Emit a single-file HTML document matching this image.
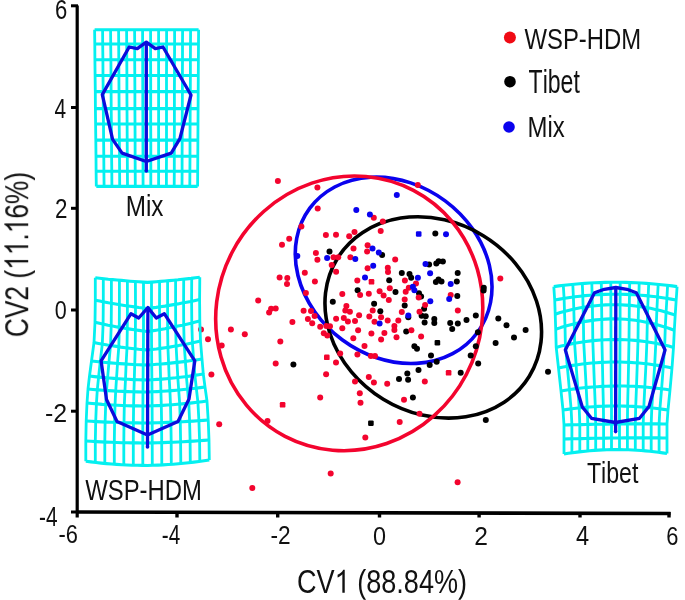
<!DOCTYPE html>
<html><head><meta charset="utf-8"><style>html,body{margin:0;padding:0;background:#fff}svg{display:block}text{font-family:"Liberation Sans",sans-serif}</style></head>
<body><svg width="685" height="600" viewBox="0 0 685 600">
<rect width="685" height="600" fill="#fff"/>
<g fill="none" stroke-width="3.6">
<ellipse cx="393.64" cy="270.32" rx="104.34" ry="86.49" transform="rotate(36.55 393.64 270.32)" stroke="#0a02ee"/>
<ellipse cx="433.26" cy="317.46" rx="112.61" ry="95.84" transform="rotate(31.46 433.26 317.46)" stroke="#000"/>
<ellipse cx="349.22" cy="313.35" rx="132.09" ry="138.74" transform="rotate(27.57 349.22 313.35)" stroke="#f3042e"/>
</g>
<g fill="#000"><circle cx="329.5" cy="251.4" r="3.0"/><circle cx="382.1" cy="254.9" r="3.0"/><circle cx="401.8" cy="272.9" r="3.0"/><circle cx="389.2" cy="280.3" r="3.0"/><circle cx="409.5" cy="274" r="3.0"/><circle cx="435.3" cy="233.4" r="3.0"/><circle cx="429.1" cy="264.4" r="3.0"/><circle cx="436.3" cy="263.4" r="3.0"/><circle cx="438.6" cy="261.3" r="3.0"/><circle cx="442.9" cy="261.6" r="3.0"/><circle cx="411.2" cy="277.7" r="3.0"/><circle cx="457.7" cy="273.1" r="3.0"/><circle cx="456.8" cy="281.5" r="3.0"/><circle cx="438.5" cy="279.5" r="3.0"/><circle cx="435.9" cy="282.1" r="3.0"/><circle cx="441.5" cy="281.6" r="3.0"/><circle cx="457.3" cy="295.9" r="3.0"/><circle cx="419" cy="293.3" r="3.0"/><circle cx="421.1" cy="296.4" r="3.0"/><circle cx="395.5" cy="292" r="3.0"/><circle cx="357.6" cy="290.3" r="3.0"/><circle cx="332.8" cy="301.7" r="3.0"/><circle cx="374.1" cy="303.8" r="3.0"/><circle cx="380.3" cy="311.2" r="3.0"/><circle cx="404.7" cy="305.6" r="3.0"/><circle cx="424.1" cy="308.7" r="3.0"/><circle cx="408.3" cy="317.3" r="3.0"/><circle cx="421.6" cy="315.8" r="3.0"/><circle cx="425.7" cy="316.3" r="3.0"/><circle cx="424.6" cy="322.5" r="3.0"/><circle cx="434.3" cy="318.9" r="3.0"/><circle cx="434.3" cy="323" r="3.0"/><circle cx="406.2" cy="331.6" r="3.0"/><circle cx="450.2" cy="323" r="3.0"/><circle cx="457.8" cy="323.5" r="3.0"/><circle cx="452.2" cy="329.1" r="3.0"/><circle cx="466.5" cy="319.9" r="3.0"/><circle cx="483.8" cy="287.8" r="3.0"/><circle cx="483.6" cy="290.6" r="3.0"/><circle cx="475.8" cy="315.6" r="3.0"/><circle cx="498.3" cy="318.4" r="3.0"/><circle cx="506.5" cy="325.2" r="3.0"/><circle cx="525.6" cy="330" r="3.0"/><circle cx="477.9" cy="332.2" r="3.0"/><circle cx="514" cy="337.5" r="3.0"/><circle cx="548" cy="371.7" r="3.0"/><circle cx="293.4" cy="364.6" r="3.0"/><rect x="434.6" y="339.9" width="5.6" height="5.6" rx="1.2"/><circle cx="414.4" cy="346.2" r="3.0"/><circle cx="417" cy="348.8" r="3.0"/><circle cx="431" cy="355.6" r="3.0"/><circle cx="436.7" cy="361.8" r="3.0"/><circle cx="429.7" cy="365.1" r="3.0"/><circle cx="418.5" cy="370" r="3.0"/><circle cx="407.3" cy="373.6" r="3.0"/><circle cx="399" cy="379.1" r="3.0"/><circle cx="408.1" cy="379.7" r="3.0"/><circle cx="460.7" cy="372.7" r="3.0"/><circle cx="495.6" cy="343" r="3.0"/><circle cx="475.8" cy="346.2" r="3.0"/><circle cx="470.7" cy="355.6" r="3.0"/><circle cx="478.2" cy="363.4" r="3.0"/><rect x="368.1" y="420.4" width="5.6" height="5.6" rx="1.2"/><circle cx="412.9" cy="397.4" r="3.0"/><circle cx="485.8" cy="420" r="3.0"/></g>
<g fill="#f3042e"><circle cx="277.9" cy="181.1" r="3.0"/><circle cx="289.2" cy="238.7" r="3.0"/><circle cx="282" cy="244.7" r="3.0"/><circle cx="301.4" cy="226.6" r="3.0"/><circle cx="317.4" cy="187.5" r="3.0"/><circle cx="317.7" cy="208.6" r="3.0"/><circle cx="417.8" cy="184.9" r="3.0"/><circle cx="373.8" cy="217.8" r="3.0"/><circle cx="382.8" cy="221.6" r="3.0"/><circle cx="325.9" cy="235" r="3.0"/><circle cx="336" cy="234.8" r="3.0"/><circle cx="315.9" cy="253" r="3.0"/><circle cx="317.4" cy="259.8" r="3.0"/><circle cx="333.5" cy="257.3" r="3.0"/><circle cx="338.2" cy="257.3" r="3.0"/><circle cx="331.7" cy="265.1" r="3.0"/><circle cx="336.1" cy="271.8" r="3.0"/><circle cx="304.8" cy="272.8" r="3.0"/><circle cx="279.6" cy="277.5" r="3.0"/><circle cx="287.3" cy="278" r="3.0"/><circle cx="314.9" cy="281.5" r="3.0"/><circle cx="354.5" cy="231.9" r="3.0"/><circle cx="349.2" cy="236.3" r="3.0"/><circle cx="380.7" cy="231" r="3.0"/><circle cx="353.5" cy="248.4" r="3.0"/><circle cx="367.6" cy="245.3" r="3.0"/><circle cx="367.1" cy="251.4" r="3.0"/><circle cx="350.4" cy="257.3" r="3.0"/><circle cx="395.2" cy="259.6" r="3.0"/><circle cx="367.6" cy="268.3" r="3.0"/><circle cx="387.8" cy="267.8" r="3.0"/><circle cx="388" cy="272.1" r="3.0"/><circle cx="357.3" cy="280.5" r="3.0"/><rect x="368.7" y="279.0" width="5.6" height="5.6" rx="1.2"/><circle cx="404.9" cy="280.4" r="3.0"/><circle cx="500.3" cy="278.5" r="3.0"/><circle cx="258.2" cy="300.5" r="3.0"/><circle cx="230.9" cy="329.6" r="3.0"/><circle cx="244.8" cy="334.3" r="3.0"/><circle cx="201" cy="329.5" r="3.0"/><circle cx="208" cy="339.3" r="3.0"/><circle cx="287" cy="284.1" r="3.0"/><circle cx="305.9" cy="293.1" r="3.0"/><circle cx="271.1" cy="308.7" r="3.0"/><circle cx="275.7" cy="308.5" r="3.0"/><circle cx="269.1" cy="312.5" r="3.0"/><circle cx="303.6" cy="310.7" r="3.0"/><circle cx="311" cy="310.9" r="3.0"/><circle cx="314.6" cy="316" r="3.0"/><circle cx="307.9" cy="319.1" r="3.0"/><circle cx="312.2" cy="323.2" r="3.0"/><circle cx="292.4" cy="321.9" r="3.0"/><circle cx="320.2" cy="326.8" r="3.0"/><circle cx="326.3" cy="326" r="3.0"/><circle cx="330" cy="326.3" r="3.0"/><circle cx="323.8" cy="333.2" r="3.0"/><circle cx="327.3" cy="335.5" r="3.0"/><circle cx="389.8" cy="288.2" r="3.0"/><circle cx="360.1" cy="294.9" r="3.0"/><circle cx="342.3" cy="294.1" r="3.0"/><circle cx="368.8" cy="293.8" r="3.0"/><circle cx="379.6" cy="291.3" r="3.0"/><circle cx="383.6" cy="295.4" r="3.0"/><circle cx="388.8" cy="300" r="3.0"/><circle cx="346.4" cy="306.1" r="3.0"/><circle cx="345.3" cy="310.5" r="3.0"/><circle cx="349.9" cy="311.7" r="3.0"/><circle cx="372.7" cy="310.5" r="3.0"/><circle cx="336.1" cy="318.7" r="3.0"/><circle cx="343.8" cy="318.1" r="3.0"/><circle cx="347.9" cy="321.4" r="3.0"/><circle cx="355" cy="320.9" r="3.0"/><circle cx="359.1" cy="315.3" r="3.0"/><circle cx="369.3" cy="316.6" r="3.0"/><circle cx="381.1" cy="317.3" r="3.0"/><circle cx="374.5" cy="321.7" r="3.0"/><circle cx="387.7" cy="320.4" r="3.0"/><circle cx="398.3" cy="320.4" r="3.0"/><circle cx="394.4" cy="326" r="3.0"/><circle cx="394.4" cy="330.1" r="3.0"/><circle cx="342.3" cy="328.3" r="3.0"/><circle cx="358.1" cy="330.3" r="3.0"/><circle cx="371.4" cy="333.4" r="3.0"/><circle cx="384.4" cy="333" r="3.0"/><circle cx="353.3" cy="338.2" r="3.0"/><circle cx="401.8" cy="312" r="3.0"/><circle cx="416" cy="283.6" r="3.0"/><circle cx="408.8" cy="287.7" r="3.0"/><circle cx="405.7" cy="291.8" r="3.0"/><circle cx="418.7" cy="297.4" r="3.0"/><circle cx="404.7" cy="299.5" r="3.0"/><circle cx="425.1" cy="305.1" r="3.0"/><circle cx="419.5" cy="311.7" r="3.0"/><circle cx="411.4" cy="330.3" r="3.0"/><circle cx="421.1" cy="336.6" r="3.0"/><circle cx="396.5" cy="337.2" r="3.0"/><circle cx="450.7" cy="294.9" r="3.0"/><circle cx="457.8" cy="310.5" r="3.0"/><circle cx="381.1" cy="339.6" r="3.0"/><circle cx="364.5" cy="346" r="3.0"/><circle cx="340.2" cy="353.4" r="3.0"/><circle cx="357.4" cy="354.4" r="3.0"/><circle cx="370.9" cy="356" r="3.0"/><circle cx="375" cy="356" r="3.0"/><circle cx="336" cy="362.6" r="3.0"/><circle cx="368.8" cy="377.1" r="3.0"/><circle cx="373.9" cy="382.5" r="3.0"/><circle cx="355" cy="381.5" r="3.0"/><circle cx="387.2" cy="383.8" r="3.0"/><circle cx="359.8" cy="393.2" r="3.0"/><circle cx="280.3" cy="341.6" r="3.0"/><circle cx="275.7" cy="363.6" r="3.0"/><rect x="324.0" y="354.5" width="5.6" height="5.6" rx="1.2"/><circle cx="326.1" cy="374.3" r="3.0"/><circle cx="221.7" cy="345.4" r="3.0"/><circle cx="211.4" cy="374.6" r="3.0"/><circle cx="424.8" cy="381.5" r="3.0"/><rect x="445.8" y="370.0" width="5.6" height="5.6" rx="1.2"/><circle cx="219.2" cy="424.2" r="3.0"/><circle cx="267.5" cy="421" r="3.0"/><rect x="279.8" y="402.0" width="5.6" height="5.6" rx="1.2"/><circle cx="320.2" cy="397.5" r="3.0"/><circle cx="360.5" cy="402.8" r="3.0"/><circle cx="365.3" cy="437.5" r="3.0"/><circle cx="399.7" cy="421.9" r="3.0"/><circle cx="404" cy="399.7" r="3.0"/><circle cx="419.5" cy="413.7" r="3.0"/><circle cx="252.3" cy="487.9" r="3.0"/><circle cx="330.7" cy="473.6" r="3.0"/><circle cx="457.6" cy="482.3" r="3.0"/></g>
<g fill="#0a02ee"><circle cx="356.3" cy="210" r="3.0"/><circle cx="369.9" cy="214.6" r="3.0"/><circle cx="396.8" cy="195" r="3.0"/><circle cx="327.1" cy="258.1" r="3.0"/><circle cx="297.3" cy="256" r="3.0"/><circle cx="372.5" cy="248.4" r="3.0"/><circle cx="378.8" cy="252.5" r="3.0"/><circle cx="355.3" cy="259" r="3.0"/><circle cx="373.2" cy="265.7" r="3.0"/><circle cx="365" cy="277.4" r="3.0"/><rect x="415.9" y="231.2" width="5.6" height="5.6" rx="1.2"/><circle cx="446" cy="234.3" r="3.0"/><circle cx="425.5" cy="264.1" r="3.0"/><circle cx="430.1" cy="273.3" r="3.0"/><circle cx="417.9" cy="277.7" r="3.0"/><circle cx="450.7" cy="283.9" r="3.0"/><circle cx="412.9" cy="286.7" r="3.0"/><circle cx="414.4" cy="290.3" r="3.0"/><circle cx="430.3" cy="301.3" r="3.0"/><circle cx="408.3" cy="315.6" r="3.0"/><circle cx="449.2" cy="298.9" r="3.0"/><circle cx="379.6" cy="323.5" r="3.0"/></g>
<path d="M94.6,29.7 98.9,29.7 103.3,29.7 107.6,29.7 111.9,29.7 116.3,29.7 120.6,29.7 124.9,29.7 129.3,29.7 133.6,29.7 137.9,29.7 142.3,29.7 146.6,29.7 150.9,29.7 155.3,29.7 159.6,29.7 163.9,29.7 168.3,29.7 172.6,29.7 176.9,29.7 181.3,29.7 185.6,29.7 189.9,29.7 194.3,29.7 198.6,29.7 M94.8,44.0 99.1,44.0 103.4,44.0 107.7,44.0 112.1,44.0 116.4,44.0 120.7,44.0 125.0,44.0 129.3,44.0 133.7,44.0 138.0,44.0 142.3,44.0 146.6,44.0 151.0,44.0 155.3,44.0 159.6,44.0 163.9,44.0 168.2,44.0 172.6,44.0 176.9,44.0 181.2,44.0 185.5,44.0 189.9,44.0 194.2,44.0 198.5,44.0 M94.9,59.7 99.3,59.7 103.6,59.7 107.9,59.7 112.2,59.7 116.5,59.7 120.8,59.7 125.1,59.7 129.4,59.7 133.7,59.7 138.0,59.7 142.4,59.7 146.7,59.7 151.0,59.7 155.3,59.7 159.6,59.7 163.9,59.7 168.2,59.7 172.5,59.7 176.8,59.7 181.2,59.7 185.5,59.7 189.8,59.7 194.1,59.7 198.4,59.7 M95.1,75.5 99.4,75.5 103.7,75.5 108.0,75.5 112.3,75.5 116.6,75.5 120.9,75.5 125.2,75.5 129.5,75.5 133.8,75.5 138.1,75.5 142.4,75.5 146.7,75.5 151.0,75.5 155.3,75.5 159.6,75.5 163.9,75.5 168.2,75.5 172.5,75.5 176.8,75.5 181.1,75.5 185.4,75.5 189.7,75.5 194.0,75.5 198.3,75.5 M95.3,91.6 99.6,91.6 103.9,91.6 108.1,91.6 112.4,91.6 116.7,91.6 121.0,91.6 125.3,91.6 129.6,91.6 133.9,91.6 138.2,91.6 142.5,91.6 146.7,91.6 151.0,91.6 155.3,91.6 159.6,91.6 163.9,91.6 168.2,91.6 172.5,91.6 176.8,91.6 181.0,91.6 185.3,91.6 189.6,91.6 193.9,91.6 198.2,91.6 M95.4,108.6 99.7,108.6 104.0,108.6 108.3,108.6 112.6,108.6 116.8,108.6 121.1,108.6 125.4,108.6 129.7,108.6 133.9,108.6 138.2,108.6 142.5,108.6 146.8,108.6 151.1,108.6 155.3,108.6 159.6,108.6 163.9,108.6 168.2,108.6 172.4,108.6 176.7,108.6 181.0,108.6 185.3,108.6 189.5,108.6 193.8,108.6 198.1,108.6 M95.6,124.0 99.9,124.0 104.2,124.0 108.4,124.0 112.7,124.0 116.9,124.0 121.2,124.0 125.5,124.0 129.7,124.0 134.0,124.0 138.3,124.0 142.5,124.0 146.8,124.0 151.1,124.0 155.3,124.0 159.6,124.0 163.9,124.0 168.1,124.0 172.4,124.0 176.7,124.0 180.9,124.0 185.2,124.0 189.5,124.0 193.7,124.0 198.0,124.0 M95.8,140.1 100.0,140.1 104.3,140.1 108.6,140.1 112.8,140.1 117.1,140.1 121.3,140.1 125.6,140.1 129.8,140.1 134.1,140.1 138.3,140.1 142.6,140.1 146.8,140.1 151.1,140.1 155.4,140.1 159.6,140.1 163.9,140.1 168.1,140.1 172.4,140.1 176.6,140.1 180.9,140.1 185.1,140.1 189.4,140.1 193.6,140.1 197.9,140.1 M96.0,156.2 100.2,156.2 104.4,156.2 108.7,156.2 112.9,156.2 117.2,156.2 121.4,156.2 125.7,156.2 129.9,156.2 134.2,156.2 138.4,156.2 142.6,156.2 146.9,156.2 151.1,156.2 155.4,156.2 159.6,156.2 163.9,156.2 168.1,156.2 172.3,156.2 176.6,156.2 180.8,156.2 185.1,156.2 189.3,156.2 193.6,156.2 197.8,156.2 M96.1,171.2 100.4,171.2 104.6,171.2 108.8,171.2 113.1,171.2 117.3,171.2 121.5,171.2 125.8,171.2 130.0,171.2 134.2,171.2 138.5,171.2 142.7,171.2 146.9,171.2 151.1,171.2 155.4,171.2 159.6,171.2 163.8,171.2 168.1,171.2 172.3,171.2 176.5,171.2 180.8,171.2 185.0,171.2 189.2,171.2 193.5,171.2 197.7,171.2 M96.3,186.4 100.5,186.4 104.7,186.4 109.0,186.4 113.2,186.4 117.4,186.4 121.6,186.4 125.8,186.4 130.1,186.4 134.3,186.4 138.5,186.4 142.7,186.4 146.9,186.4 151.2,186.4 155.4,186.4 159.6,186.4 163.8,186.4 168.1,186.4 172.3,186.4 176.5,186.4 180.7,186.4 184.9,186.4 189.2,186.4 193.4,186.4 197.6,186.4" fill="none" stroke="#04f0f0" stroke-width="3.0999999999999996" stroke-linejoin="round"/><path d="M94.6,29.7 94.8,44.0 94.9,59.7 95.1,75.5 95.3,91.6 95.4,108.6 95.6,124.0 95.8,140.1 96.0,156.2 96.1,171.2 96.3,186.4 M102.6,29.7 102.7,44.0 102.9,59.7 103.0,75.5 103.2,91.6 103.3,108.6 103.5,124.0 103.6,140.1 103.8,156.2 103.9,171.2 104.1,186.4 M110.6,29.7 110.7,44.0 110.9,59.7 111.0,75.5 111.1,91.6 111.2,108.6 111.4,124.0 111.5,140.1 111.6,156.2 111.8,171.2 111.9,186.4 M118.6,29.7 118.7,44.0 118.8,59.7 118.9,75.5 119.0,91.6 119.1,108.6 119.2,124.0 119.4,140.1 119.5,156.2 119.6,171.2 119.7,186.4 M126.6,29.7 126.7,44.0 126.8,59.7 126.9,75.5 126.9,91.6 127.0,108.6 127.1,124.0 127.2,140.1 127.3,156.2 127.4,171.2 127.5,186.4 M134.6,29.7 134.7,44.0 134.7,59.7 134.8,75.5 134.9,91.6 134.9,108.6 135.0,124.0 135.1,140.1 135.1,156.2 135.2,171.2 135.3,186.4 M142.6,29.7 142.6,44.0 142.7,59.7 142.7,75.5 142.8,91.6 142.8,108.6 142.9,124.0 142.9,140.1 143.0,156.2 143.0,171.2 143.1,186.4 M150.6,29.7 150.6,44.0 150.6,59.7 150.7,75.5 150.7,91.6 150.7,108.6 150.7,124.0 150.8,140.1 150.8,156.2 150.8,171.2 150.8,186.4 M158.6,29.7 158.6,44.0 158.6,59.7 158.6,75.5 158.6,91.6 158.6,108.6 158.6,124.0 158.6,140.1 158.6,156.2 158.6,171.2 158.6,186.4 M166.6,29.7 166.6,44.0 166.6,59.7 166.5,75.5 166.5,91.6 166.5,108.6 166.5,124.0 166.5,140.1 166.5,156.2 166.4,171.2 166.4,186.4 M174.6,29.7 174.6,44.0 174.5,59.7 174.5,75.5 174.4,91.6 174.4,108.6 174.4,124.0 174.3,140.1 174.3,156.2 174.3,171.2 174.2,186.4 M182.6,29.7 182.5,44.0 182.5,59.7 182.4,75.5 182.4,91.6 182.3,108.6 182.2,124.0 182.2,140.1 182.1,156.2 182.1,171.2 182.0,186.4 M190.6,29.7 190.5,44.0 190.4,59.7 190.4,75.5 190.3,91.6 190.2,108.6 190.1,124.0 190.0,140.1 190.0,156.2 189.9,171.2 189.8,186.4 M198.6,29.7 198.5,44.0 198.4,59.7 198.3,75.5 198.2,91.6 198.1,108.6 198.0,124.0 197.9,140.1 197.8,156.2 197.7,171.2 197.6,186.4" fill="none" stroke="#04f0f0" stroke-width="2.8" stroke-linejoin="round"/>
<path d="M95.3,277.7 99.6,278.2 104.0,278.7 108.3,279.2 112.7,279.6 117.0,280.0 121.4,280.4 125.7,280.8 130.1,281.2 134.4,281.5 138.8,281.8 143.1,282.1 147.5,282.4 151.9,282.1 156.2,281.8 160.6,281.4 164.9,281.0 169.3,280.6 173.6,280.2 178.0,279.8 182.4,279.3 186.7,278.9 191.1,278.4 195.4,277.8 199.8,277.3 M95.3,300.2 99.7,301.1 104.0,301.9 108.4,302.8 112.7,303.5 117.1,304.3 121.4,305.0 125.8,305.7 130.1,306.3 134.5,306.9 138.8,307.5 143.2,308.0 147.5,308.5 151.8,307.9 156.2,307.4 160.5,306.7 164.9,306.1 169.2,305.4 173.6,304.6 177.9,303.9 182.2,303.1 186.6,302.2 190.9,301.4 195.3,300.4 199.6,299.5 M95.0,322.3 99.4,323.3 103.8,324.2 108.1,325.2 112.5,326.0 116.9,326.9 121.3,327.6 125.6,328.4 130.0,329.1 134.4,329.8 138.8,330.4 143.1,331.0 147.5,331.5 151.9,330.9 156.2,330.2 160.6,329.4 165.0,328.7 169.3,327.8 173.7,327.0 178.0,326.1 182.4,325.2 186.7,324.2 191.1,323.2 195.4,322.1 199.8,321.0 M94.0,342.5 98.5,343.4 103.0,344.2 107.4,345.0 111.9,345.7 116.4,346.4 120.8,347.1 125.3,347.7 129.7,348.2 134.2,348.7 138.6,349.2 143.1,349.6 147.5,350.0 151.9,349.5 156.4,349.0 160.8,348.4 165.2,347.7 169.6,347.1 174.1,346.3 178.5,345.6 182.9,344.7 187.3,343.9 191.7,343.0 196.1,342.0 200.5,341.0 M91.5,361.0 96.2,361.5 100.9,362.0 105.6,362.5 110.3,362.9 115.0,363.3 119.7,363.6 124.3,363.9 129.0,364.2 133.6,364.5 138.3,364.7 142.9,364.9 147.5,365.0 152.1,364.7 156.7,364.3 161.3,364.0 165.8,363.6 170.4,363.1 174.9,362.6 179.5,362.1 184.0,361.6 188.5,361.0 193.0,360.3 197.5,359.7 202.0,359.0 M89.5,376.0 94.4,376.6 99.3,377.1 104.2,377.6 109.1,378.0 113.9,378.4 118.8,378.8 123.6,379.1 128.4,379.3 133.2,379.6 138.0,379.8 142.8,379.9 147.5,380.0 152.2,379.7 157.0,379.4 161.7,379.1 166.3,378.7 171.0,378.2 175.7,377.8 180.3,377.2 184.9,376.7 189.6,376.1 194.2,375.4 198.7,374.7 203.3,374.0 M88.0,389.0 93.0,389.5 98.1,389.9 103.1,390.3 108.1,390.6 113.0,390.9 118.0,391.2 123.0,391.4 127.9,391.6 132.8,391.8 137.7,391.9 142.6,392.0 147.5,392.0 152.4,391.8 157.2,391.6 162.1,391.3 166.9,391.0 171.7,390.6 176.5,390.2 181.3,389.8 186.1,389.3 190.8,388.8 195.6,388.2 200.3,387.6 205.0,387.0 M87.0,403.0 92.1,403.5 97.2,403.9 102.2,404.4 107.3,404.7 112.3,405.0 117.4,405.3 122.4,405.5 127.4,405.7 132.5,405.9 137.5,405.9 142.5,406.0 147.5,406.0 152.5,405.8 157.5,405.6 162.5,405.4 167.4,405.0 172.4,404.7 177.4,404.3 182.3,403.9 187.3,403.4 192.2,402.9 197.2,402.3 202.1,401.7 207.0,401.0 M86.2,421.0 91.3,421.3 96.5,421.6 101.6,421.9 106.7,422.1 111.8,422.3 116.9,422.5 122.0,422.7 127.1,422.8 132.2,422.9 137.3,422.9 142.4,423.0 147.5,423.0 152.6,422.9 157.7,422.8 162.7,422.6 167.8,422.4 172.9,422.2 177.9,422.0 183.0,421.7 188.0,421.4 193.1,421.1 198.1,420.8 203.2,420.4 208.2,420.0 M85.8,441.0 90.9,441.3 96.1,441.6 101.2,441.9 106.4,442.1 111.5,442.3 116.7,442.5 121.8,442.7 127.0,442.8 132.1,442.9 137.2,442.9 142.4,443.0 147.5,443.0 152.6,442.9 157.8,442.8 162.9,442.6 168.0,442.4 173.1,442.2 178.3,442.0 183.4,441.7 188.5,441.4 193.6,441.1 198.8,440.8 203.9,440.4 209.0,440.0 M85.8,461.3 90.9,461.9 96.1,462.5 101.2,463.1 106.4,463.6 111.5,464.0 116.6,464.4 121.8,464.7 126.9,465.0 132.1,465.2 137.2,465.3 142.4,465.4 147.5,465.5 152.6,465.3 157.8,465.1 162.9,464.9 168.1,464.5 173.2,464.2 178.4,463.7 183.5,463.2 188.7,462.7 193.8,462.1 199.0,461.5 204.1,460.8 209.3,460.0" fill="none" stroke="#04f0f0" stroke-width="3.0999999999999996" stroke-linejoin="round"/><path d="M95.3,277.7 95.3,300.2 95.0,322.3 94.0,342.5 91.5,361.0 89.5,376.0 88.0,389.0 87.0,403.0 86.2,421.0 85.8,441.0 85.8,461.3 M103.3,278.6 103.3,301.8 103.1,324.1 102.3,344.1 100.2,361.9 98.6,377.0 97.3,389.8 96.4,403.9 95.7,421.6 95.3,441.6 95.3,462.5 M111.4,279.5 111.4,303.3 111.2,325.8 110.5,345.5 108.9,362.8 107.6,377.9 106.5,390.5 105.7,404.6 105.1,422.0 104.8,442.0 104.8,463.4 M119.4,280.2 119.4,304.7 119.3,327.3 118.8,346.8 117.5,363.5 116.5,378.6 115.7,391.1 115.0,405.2 114.6,422.4 114.3,442.4 114.3,464.2 M127.4,280.9 127.4,305.9 127.3,328.7 127.0,347.9 126.1,364.1 125.5,379.2 124.9,391.5 124.3,405.6 124.0,422.7 123.8,442.7 123.8,464.8 M135.4,281.6 135.5,307.0 135.4,329.9 135.2,348.9 134.7,364.5 134.3,379.6 133.9,391.8 133.6,405.9 133.4,422.9 133.3,442.9 133.3,465.2 M143.5,282.1 143.5,308.0 143.5,331.0 143.4,349.7 143.2,364.9 143.1,379.9 143.0,392.0 142.9,406.0 142.8,423.0 142.8,443.0 142.8,465.5 M151.5,282.1 151.5,308.0 151.5,330.9 151.6,349.5 151.7,364.7 151.9,379.8 152.0,391.8 152.1,405.8 152.2,422.9 152.2,442.9 152.3,465.4 M159.6,281.5 159.5,306.9 159.6,329.6 159.8,348.5 160.2,364.1 160.6,379.1 160.9,391.3 161.3,405.4 161.6,422.7 161.7,442.7 161.8,464.9 M167.6,280.8 167.6,305.7 167.6,328.2 167.9,347.3 168.6,363.3 169.2,378.4 169.9,390.7 170.5,404.8 170.9,422.3 171.2,442.3 171.3,464.3 M175.6,280.0 175.6,304.3 175.7,326.6 176.1,346.0 177.0,362.4 177.8,377.5 178.7,390.0 179.7,404.1 180.3,421.9 180.6,441.9 180.8,463.5 M183.7,279.2 183.6,302.8 183.7,324.9 184.2,344.5 185.4,361.4 186.4,376.5 187.5,389.1 188.8,403.2 189.6,421.3 190.1,441.3 190.3,462.5 M191.7,278.3 191.6,301.2 191.8,323.0 192.4,342.8 193.7,360.2 194.9,375.3 196.3,388.1 197.9,402.2 198.9,420.7 199.6,440.7 199.8,461.4 M199.8,277.3 199.6,299.5 199.8,321.0 200.5,341.0 202.0,359.0 203.3,374.0 205.0,387.0 207.0,401.0 208.2,420.0 209.0,440.0 209.3,460.0" fill="none" stroke="#04f0f0" stroke-width="2.8" stroke-linejoin="round"/>
<path d="M553.8,286.6 558.9,285.9 564.1,285.3 569.2,284.7 574.4,284.2 579.5,283.8 584.7,283.4 589.8,283.0 594.9,282.8 600.1,282.6 605.2,282.4 610.4,282.3 615.5,282.3 620.6,282.3 625.8,282.4 630.9,282.6 636.0,282.8 641.2,283.0 646.3,283.4 651.4,283.8 656.6,284.2 661.7,284.7 666.8,285.3 672.0,285.9 677.1,286.6 M554.7,300.0 559.8,299.1 564.8,298.2 569.9,297.5 575.0,296.8 580.0,296.2 585.1,295.6 590.2,295.2 595.2,294.8 600.3,294.6 605.4,294.4 610.4,294.2 615.5,294.2 620.6,294.2 625.6,294.4 630.7,294.6 635.7,294.8 640.8,295.2 645.9,295.6 650.9,296.2 656.0,296.8 661.0,297.5 666.1,298.2 671.1,299.1 676.2,300.0 M555.2,314.2 560.2,312.6 565.3,311.2 570.3,310.0 575.4,308.8 580.4,307.8 585.4,307.0 590.4,306.2 595.5,305.7 600.5,305.2 605.5,304.9 610.5,304.7 615.5,304.7 620.5,304.8 625.5,305.1 630.5,305.4 635.5,306.0 640.4,306.6 645.4,307.4 650.4,308.3 655.4,309.4 660.3,310.6 665.3,312.0 670.2,313.5 675.2,315.1 M555.7,329.3 560.7,327.6 565.7,326.1 570.7,324.7 575.7,323.4 580.7,322.3 585.7,321.4 590.7,320.6 595.7,319.9 600.6,319.5 605.6,319.1 610.6,318.9 615.5,318.9 620.4,319.0 625.4,319.3 630.3,319.7 635.2,320.3 640.1,321.0 645.0,321.9 649.9,322.9 654.8,324.1 659.7,325.4 664.6,326.9 669.4,328.5 674.3,330.3 M556.2,347.4 561.2,346.1 566.2,345.0 571.1,343.9 576.1,343.0 581.1,342.2 586.0,341.5 590.9,340.9 595.9,340.4 600.8,340.0 605.7,339.7 610.6,339.6 615.5,339.5 620.4,339.6 625.3,339.7 630.1,340.0 635.0,340.4 639.8,340.9 644.7,341.5 649.5,342.2 654.3,343.0 659.1,343.9 663.9,345.0 668.7,346.1 673.5,347.4 M558.5,368.0 563.3,367.0 568.0,366.2 572.8,365.4 577.6,364.7 582.3,364.0 587.1,363.5 591.8,363.0 596.6,362.7 601.3,362.4 606.0,362.2 610.8,362.0 615.5,362.0 620.2,362.0 625.0,362.2 629.7,362.4 634.4,362.7 639.1,363.0 643.8,363.5 648.5,364.0 653.2,364.7 657.9,365.4 662.6,366.2 667.3,367.0 672.0,368.0 M561.0,391.0 565.5,390.2 570.1,389.5 574.6,388.9 579.2,388.3 583.7,387.8 588.2,387.4 592.8,387.0 597.3,386.7 601.9,386.4 606.4,386.2 611.0,386.1 615.5,386.0 620.0,386.0 624.6,386.0 629.1,386.2 633.7,386.3 638.2,386.6 642.8,386.9 647.3,387.2 651.8,387.7 656.4,388.2 660.9,388.7 665.5,389.3 670.0,390.0 M563.0,410.0 567.4,409.4 571.8,408.8 576.1,408.2 580.5,407.8 584.9,407.4 589.2,407.0 593.6,406.7 598.0,406.4 602.4,406.2 606.7,406.1 611.1,406.0 615.5,406.0 619.9,406.0 624.2,406.1 628.6,406.2 633.0,406.4 637.4,406.7 641.8,407.0 646.1,407.4 650.5,407.8 654.9,408.2 659.2,408.8 663.6,409.4 668.0,410.0 M564.0,425.0 568.3,424.9 572.6,424.8 576.9,424.7 581.2,424.6 585.5,424.5 589.8,424.4 594.0,424.3 598.3,424.2 602.6,424.2 606.9,424.1 611.2,424.0 615.5,424.0 619.8,424.0 624.1,423.9 628.4,423.9 632.7,423.9 637.0,423.9 641.2,423.9 645.5,423.9 649.8,423.9 654.1,423.9 658.4,423.9 662.7,424.0 667.0,424.0 M564.0,439.0 568.3,438.9 572.6,438.8 576.9,438.7 581.2,438.6 585.5,438.5 589.8,438.4 594.0,438.3 598.3,438.2 602.6,438.2 606.9,438.1 611.2,438.0 615.5,438.0 619.8,438.0 624.1,437.9 628.4,437.9 632.7,437.9 637.0,437.9 641.2,437.9 645.5,437.9 649.8,437.9 654.1,437.9 658.4,437.9 662.7,438.0 667.0,438.0 M564.0,454.0 568.3,453.3 572.6,452.7 576.9,452.1 581.2,451.6 585.5,451.2 589.8,450.8 594.0,450.4 598.3,450.1 602.6,449.9 606.9,449.8 611.2,449.6 615.5,449.6 619.8,449.6 624.1,449.7 628.4,449.8 632.7,450.0 637.0,450.2 641.2,450.5 645.5,450.9 649.8,451.3 654.1,451.7 658.4,452.3 662.7,452.9 667.0,453.5" fill="none" stroke="#04f0f0" stroke-width="3.0999999999999996" stroke-linejoin="round"/><path d="M553.8,286.6 554.7,300.0 555.2,314.2 555.7,329.3 556.2,347.4 558.5,368.0 561.0,391.0 563.0,410.0 564.0,425.0 564.0,439.0 564.0,454.0 M563.3,285.4 564.1,298.4 564.5,311.4 565.0,326.3 565.4,345.2 567.3,366.3 569.4,389.6 571.1,408.9 571.9,424.8 571.9,438.8 571.9,452.8 M572.8,284.4 573.4,297.0 573.8,309.2 574.2,323.8 574.6,343.3 576.1,364.9 577.8,388.5 579.2,407.9 579.8,424.6 579.8,438.6 579.8,451.8 M582.3,283.5 582.8,295.9 583.1,307.3 583.4,321.8 583.7,341.8 584.9,363.7 586.2,387.6 587.2,407.2 587.8,424.4 587.8,438.4 587.8,450.9 M591.8,282.9 592.1,295.1 592.4,306.0 592.6,320.3 592.8,340.7 593.6,362.9 594.5,386.9 595.3,406.6 595.7,424.3 595.7,438.3 595.7,450.3 M601.3,282.5 601.5,294.5 601.6,305.1 601.8,319.4 601.9,339.9 602.4,362.3 602.9,386.4 603.4,406.2 603.6,424.1 603.6,438.1 603.6,449.9 M610.8,282.3 610.8,294.2 610.9,304.7 610.9,318.9 611.0,339.5 611.1,362.0 611.3,386.1 611.5,406.0 611.5,424.0 611.5,438.0 611.5,449.6 M620.2,282.3 620.2,294.2 620.1,304.8 620.1,319.0 620.0,339.5 619.9,362.0 619.7,386.0 619.5,406.0 619.5,424.0 619.5,438.0 619.5,449.6 M629.7,282.5 629.5,294.5 629.3,305.3 629.2,319.6 629.0,339.9 628.6,362.3 628.1,386.1 627.6,406.2 627.4,423.9 627.4,437.9 627.4,449.8 M639.2,282.9 638.9,295.1 638.5,306.3 638.2,320.7 638.0,340.7 637.3,362.9 636.5,386.5 635.7,406.6 635.3,423.9 635.3,437.9 635.3,450.1 M648.7,283.5 648.2,295.9 647.7,307.8 647.3,322.3 646.9,341.8 646.0,363.7 644.8,387.0 643.8,407.2 643.2,423.9 643.2,437.9 643.2,450.7 M658.2,284.4 657.5,297.0 656.9,309.8 656.3,324.5 655.8,343.3 654.7,364.9 653.2,387.8 651.8,407.9 651.2,423.9 651.2,437.9 651.2,451.4 M667.6,285.4 666.9,298.4 666.1,312.2 665.3,327.1 664.7,345.2 663.3,366.3 661.6,388.8 659.9,408.9 659.1,423.9 659.1,437.9 659.1,452.4 M677.1,286.6 676.2,300.0 675.2,315.1 674.3,330.3 673.5,347.4 672.0,368.0 670.0,390.0 668.0,410.0 667.0,424.0 667.0,438.0 667.0,453.5" fill="none" stroke="#04f0f0" stroke-width="2.8" stroke-linejoin="round"/>
<polygon points="146.3,42.2 155.3,48.7 163,47 191,95 179.9,138.6 171.2,153.1 146.3,161.5 122.1,153.1 112.6,139.4 102.3,94.6 129.2,47 137.3,48.7" fill="none" stroke="#0c0cdc" stroke-width="3.3" stroke-linejoin="round"/><line x1="146.3" y1="42.2" x2="146.3" y2="171" stroke="#0c0cdc" stroke-width="3.3"/><circle cx="146.3" cy="171" r="1.8" fill="#0c0cdc"/>
<polygon points="147.9,307.6 156.3,318 164.3,313.7 194.8,360.9 189,399 178,421.5 147.5,435 117,421.5 106.5,399.5 101.1,360.8 131,313.7 138.7,318" fill="none" stroke="#0c0cdc" stroke-width="3.3" stroke-linejoin="round"/><line x1="147.9" y1="307.6" x2="147.5" y2="447" stroke="#0c0cdc" stroke-width="3.3"/><circle cx="147.5" cy="447" r="1.8" fill="#0c0cdc"/>
<polygon points="615.8,287.5 627,289.3 636.3,292.8 665.1,349.9 649,406.5 639.5,418.3 615.5,422.5 591.5,418.3 582.3,407 565.3,349.9 594.5,292.8 604.3,289.3" fill="none" stroke="#0c0cdc" stroke-width="3.3" stroke-linejoin="round"/><line x1="615.8" y1="287.5" x2="615.6" y2="431.6" stroke="#0c0cdc" stroke-width="3.3"/><circle cx="615.6" cy="431.6" r="1.8" fill="#0c0cdc"/>
<g stroke="#000" fill="none">
<path d="M77.2,5.5 L77.2,517.5" stroke-width="3.2"/>
<path d="M76,512 L670.5,513.5" stroke-width="3.6"/>
<path d="M71,5.8 L78,5.8" stroke-width="3"/>
<path d="M71,107.5 L78,107.5" stroke-width="3"/>
<path d="M71,208.3 L78,208.3" stroke-width="3"/>
<path d="M71,310 L78,310" stroke-width="3"/>
<path d="M71,411.2 L78,411.2" stroke-width="3"/>
<path d="M71,512 L78,512" stroke-width="3"/>
<path d="M177,512 L177,517.5" stroke-width="3.4"/>
<path d="M277.7,512 L277.7,517.5" stroke-width="3.4"/>
<path d="M379.5,512 L379.5,517.5" stroke-width="3.4"/>
<path d="M479.1,512 L479.1,517.5" stroke-width="3.4"/>
<path d="M580,512 L580,517.5" stroke-width="3.4"/>
<path d="M669,512 L669,517.5" stroke-width="3.4"/>
</g>
<g font-family="Liberation Sans, sans-serif" fill="#111" opacity="0.999">
<g transform="matrix(0.8170 0 0 1 297.03 592.80)"><text font-size="33.14" style="font-kerning:none">CV  (88.84%)</text><path transform="translate(46.04 0) scale(0.01618 -0.01618)" d="M583,0 L763,0 L763,1430 L650,1430 C590,1310 430,1190 223,1110 L223,940 C360,990 500,1070 583,1147 Z"/></g>
<g transform="translate(28.20 337.14) rotate(-90) scale(0.7770 1)"><text font-size="33.87" style="font-kerning:none">CV2 (  . 6%)</text><path transform="translate(86.57 0) scale(0.01654 -0.01654)" d="M583,0 L763,0 L763,1430 L650,1430 C590,1310 430,1190 223,1110 L223,940 C360,990 500,1070 583,1147 Z"/><path transform="translate(105.40 0) scale(0.01654 -0.01654)" d="M583,0 L763,0 L763,1430 L650,1430 C590,1310 430,1190 223,1110 L223,940 C360,990 500,1070 583,1147 Z"/><path transform="translate(133.65 0) scale(0.01654 -0.01654)" d="M583,0 L763,0 L763,1430 L650,1430 C590,1310 430,1190 223,1110 L223,940 C360,990 500,1070 583,1147 Z"/></g>
<g transform="matrix(0.8248 0 0 1 54.98 19.30)"><text font-size="26.80" style="font-kerning:none">6</text></g>
<g transform="matrix(0.7666 0 0 1 54.52 117.80)"><text font-size="27.18" style="font-kerning:none">4</text></g>
<g transform="matrix(0.8313 0 0 1 54.97 217.80)"><text font-size="26.93" style="font-kerning:none">2</text></g>
<g transform="matrix(0.8130 0 0 1 54.66 319.30)"><text font-size="26.50" style="font-kerning:none">0</text></g>
<g transform="matrix(0.9353 0 0 1 44.89 422.40)"><text font-size="26.65" style="font-kerning:none">-2</text></g>
<g transform="matrix(0.7753 0 0 1 39.07 525.50)"><text font-size="26.89" style="font-kerning:none">-4</text></g>
<g transform="matrix(0.8335 0 0 1 58.53 543.30)"><text font-size="26.22" style="font-kerning:none">-6</text></g>
<g transform="matrix(0.7625 0 0 1 161.78 543.90)"><text font-size="27.18" style="font-kerning:none">-4</text></g>
<g transform="matrix(0.8642 0 0 1 270.49 543.90)"><text font-size="26.22" style="font-kerning:none">-2</text></g>
<g transform="matrix(0.8840 0 0 1 373.08 544.50)"><text font-size="26.50" style="font-kerning:none">0</text></g>
<g transform="matrix(0.9226 0 0 1 474.36 544.80)"><text font-size="26.65" style="font-kerning:none">2</text></g>
<g transform="matrix(0.8735 0 0 1 575.96 544.80)"><text font-size="27.03" style="font-kerning:none">4</text></g>
<g transform="matrix(0.8349 0 0 1 666.29 544.50)"><text font-size="26.22" style="font-kerning:none">6</text></g>
<g transform="matrix(0.8053 0 0 1 524.45 48.50)"><text font-size="29.65" style="font-kerning:none">WSP-HDM</text></g>
<g transform="matrix(0.6841 0 0 1 528.58 92.50)"><text font-size="33.72" style="font-kerning:none">Tibet</text></g>
<g transform="matrix(0.8111 0 0 1 527.54 136.90)"><text font-size="29.51" style="font-kerning:none">Mix</text></g>
<g transform="matrix(0.8107 0 0 1 125.71 215.90)"><text font-size="29.94" style="font-kerning:none">Mix</text></g>
<g transform="matrix(0.7964 0 0 1 85.30 499.60)"><text font-size="29.94" style="font-kerning:none">WSP-HDM</text></g>
<g transform="matrix(0.7750 0 0 1 586.88 482.70)"><text font-size="29.94" style="font-kerning:none">Tibet</text></g>
</g>
<circle cx="509.9" cy="37.5" r="6" fill="#f00a14"/>
<circle cx="510" cy="81.7" r="5.8" fill="#000"/>
<circle cx="509" cy="127" r="5.8" fill="#0a02ee"/>
</svg></body></html>
